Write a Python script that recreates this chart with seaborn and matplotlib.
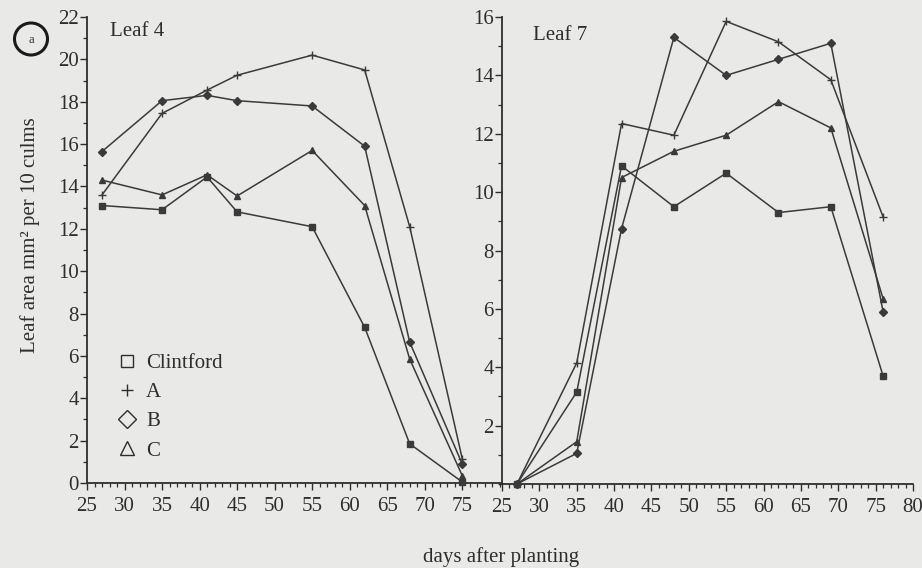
import numpy as np
import pandas as pd
import matplotlib
matplotlib.use("Agg")
import matplotlib.pyplot as plt
import seaborn as sns
from matplotlib.lines import Line2D
from matplotlib.patches import Ellipse
from matplotlib.ticker import MultipleLocator

# ---------------- data ----------------
cultivars = ["Clintford", "A", "B", "C"]

days_leaf4 = [27, 35, 41, 45, 55, 62, 68, 75]
leaf4_clintford = [13.1, 12.9, 14.45, 12.8, 12.1, 7.35, 1.85, 0.05]
leaf4_a = [13.6, 17.45, 18.55, 19.25, 20.2, 19.5, 12.1, 1.15]
leaf4_b = [15.65, 18.05, 18.3, 18.05, 17.8, 15.9, 6.65, 0.9]
leaf4_c = [14.3, 13.6, 14.55, 13.55, 15.7, 13.1, 5.85, 0.35]

days_leaf7 = [27, 35, 41, 48, 55, 62, 69, 76]
leaf7_clintford = [0.0, 3.15, 10.9, 9.5, 10.65, 9.3, 9.5, 3.7]
leaf7_a = [0.0, 4.15, 12.35, 11.95, 15.85, 15.15, 13.85, 9.15]
leaf7_b = [0.0, 1.05, 8.75, 15.3, 14.0, 14.55, 15.1, 5.9]
leaf7_c = [0.0, 1.45, 10.5, 11.4, 11.95, 13.1, 12.2, 6.35]

leaf4_ticks = [25, 30, 35, 40, 45, 50, 55, 60, 65, 70, 75]
leaf7_ticks = [25, 30, 35, 40, 45, 50, 55, 60, 65, 70, 75, 80]

rows = []
for cv, vals in zip(cultivars, [leaf4_clintford, leaf4_a, leaf4_b, leaf4_c]):
    for d, v in zip(days_leaf4, vals):
        rows.append(("Leaf 4", cv, d, v))
for cv, vals in zip(cultivars, [leaf7_clintford, leaf7_a, leaf7_b, leaf7_c]):
    for d, v in zip(days_leaf7, vals):
        rows.append(("Leaf 7", cv, d, v))
df = pd.DataFrame(rows, columns=["leaf", "cultivar", "day", "area"])

# ---------------- style ----------------
sns.set_theme(style="ticks")
plt.rcParams["font.family"] = ["Liberation Serif", "DejaVu Serif"]
BG = "#e9e9e8"
INK = "#2e2e2e"
LINE = "#3a3a3a"
FS = 15

markers = {"Clintford": "s", "A": "+", "B": "D", "C": "^"}

fig = plt.figure(figsize=(9.22, 5.68), dpi=100, facecolor=BG)
W, H = 922.0, 568.0
ax1 = fig.add_axes([87 / W, 1 - 483 / H, (502 - 87) / W, (483 - 17) / H])
ax2 = fig.add_axes([502 / W, 1 - 484 / H, (913 - 502) / W, (484 - 17) / H])

for ax, leaf in [(ax1, "Leaf 4"), (ax2, "Leaf 7")]:
    ax.set_facecolor("none")
    for cv in cultivars:
        sub = df[(df.leaf == leaf) & (df.cultivar == cv)]
        sns.lineplot(data=sub, x="day", y="area", ax=ax, color=LINE,
                     marker=markers[cv], markersize=4 if cv != "A" else 6,
                     markeredgecolor=LINE, markerfacecolor=LINE,
                     markeredgewidth=1.0, linewidth=1.1, legend=False,
                     errorbar=None, clip_on=False, zorder=3)
    ax.set_xlabel("")
    ax.set_ylabel("")
    for s in ["top", "right"]:
        ax.spines[s].set_visible(False)
    for s in ["left", "bottom"]:
        ax.spines[s].set_color(INK)
        ax.spines[s].set_linewidth(1.3)
    ax.xaxis.set_minor_locator(MultipleLocator(1))
    ax.yaxis.set_minor_locator(MultipleLocator(1))
    ax.tick_params(axis="both", which="major", direction="out", length=5,
                   width=1.0, color=INK, labelcolor=INK, labelsize=FS)
    ax.tick_params(axis="both", which="minor", direction="out", length=3,
                   width=0.9, color=INK)
    ax.tick_params(axis="x", which="major", pad=5)
    ax.tick_params(axis="y", which="major", pad=1)

ax1.set_xlim(25, 80.3)
ax1.set_ylim(0, 22)
ax1.set_xticks(leaf4_ticks)
ax1.set_yticks(range(0, 23, 2))

ax2.set_xlim(25, 80)
ax2.set_ylim(0, 16)
ax2.set_xticks(leaf7_ticks)
ax2.set_yticks(range(2, 17, 2))

# panel titles
fig.text(110 / W, 1 - 32 / H, "Leaf 4", fontsize=FS, color=INK, va="center", ha="left")
fig.text(533 / W, 1 - 36 / H, "Leaf 7", fontsize=FS, color=INK, va="center", ha="left")

# circled panel letter
fig.patches.append(Ellipse((31 / W, 1 - 39 / H), 33 / W, 32 / H, transform=fig.transFigure,
                           fill=False, edgecolor="#1a1a1a", linewidth=2.2))
fig.text(31 / W, 1 - 40 / H, "a", fontsize=9, color=INK, ha="center", va="center")

# axis labels
fig.text(30 / W, 1 - 235 / H, "Leaf area mm² per 10 culms", rotation=90,
         fontsize=FS, color=INK, ha="center", va="center")
fig.text(501 / W, 1 - 557 / H, "days after planting", fontsize=FS, color=INK,
         ha="center", va="center")

# legend (open symbols, no lines)
leg_sizes = {"Clintford": 9, "A": 8, "B": 9, "C": 10}
handles = [Line2D([], [], linestyle="none", marker=markers[cv], markersize=leg_sizes[cv],
                  markerfacecolor="none", markeredgecolor=INK, markeredgewidth=1.0)
           for cv in cultivars]
ax1.legend(handles, cultivars, loc="upper left", bbox_to_anchor=(0.072, 0.278),
           frameon=False, fontsize=FS, handlelength=1.0, handletextpad=0.4,
           labelspacing=0.46, borderaxespad=0, borderpad=0, labelcolor=INK)

fig.savefig("out.png", dpi=100, facecolor=BG)
